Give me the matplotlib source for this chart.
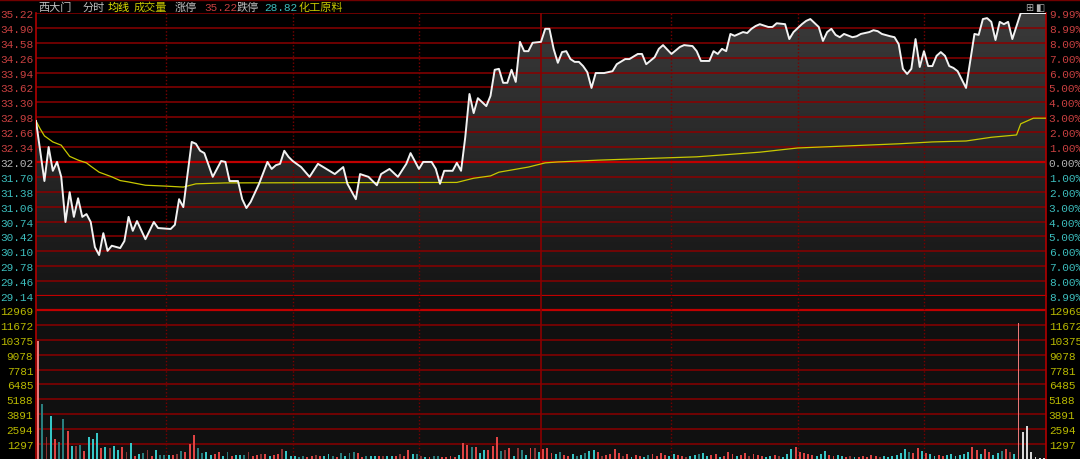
import numpy as np
import matplotlib.pyplot as plt
from matplotlib.colors import LinearSegmentedColormap
from matplotlib.lines import Line2D

plt.rcParams['font.family'] = ['Noto Sans CJK SC', 'DejaVu Sans']

# ---- data ----
prev_close = 32.02
limit_up = 35.22
limit_down = 28.82

price_ticks = [35.22, 34.90, 34.58, 34.26, 33.94, 33.62, 33.30, 32.98, 32.66, 32.34,
               32.02, 31.70, 31.38, 31.06, 30.74, 30.42, 30.10, 29.78, 29.46, 29.14]
pct_labels = ['9.99%', '8.99%', '8.00%', '7.00%', '6.00%', '5.00%', '4.00%', '3.00%', '2.00%', '1.00%',
              '0.00%', '1.00%', '2.00%', '3.00%', '4.00%', '5.00%', '6.00%', '7.00%', '8.00%', '8.99%']
vol_ticks = [1297, 2594, 3891, 5188, 6485, 7781, 9078, 10375, 11672, 12969]

# minute offset from 9:30 (afternoon continues at 120) and price
price_min = [0, 2, 3, 4, 5, 6, 7, 8, 9, 10, 11, 12, 13, 14, 15, 16, 17, 18, 20, 21, 22, 23, 24, 26, 28, 29,
             32, 33, 34, 35, 37, 38, 39, 40, 42, 44, 45, 46, 48, 49, 50, 51, 53, 55, 56, 57, 58, 59, 60, 61,
             63, 65, 67, 69, 71, 73, 74, 76, 77, 79, 81, 82, 84, 86, 88, 89, 91, 92, 94, 95, 96, 97, 99, 100,
             101, 102, 103, 104, 105, 107, 108, 109, 110, 111, 112, 113, 114, 115, 116, 117, 118, 120, 121,
             122, 123, 124, 125, 126, 127, 128, 129, 130, 131, 132, 133, 135, 137, 138, 140, 141, 143, 144,
             145, 147, 148, 149, 151, 153, 154, 156, 157, 158, 160, 161, 162, 163, 164, 165, 166, 168, 169,
             170, 171, 172, 174, 175, 176, 178, 179, 180, 182, 183, 184, 186, 187, 188, 189, 190, 191, 192,
             194, 195, 196, 198, 199, 200, 201, 203, 204, 205, 206, 207, 208, 209, 210, 211, 212, 213, 214,
             215, 216, 217, 218, 219, 221, 223, 224, 225, 226, 227, 228, 229, 230, 231, 232, 234, 240]
price_val = [32.90, 31.61, 32.34, 31.83, 32.02, 31.70, 30.73, 31.37, 30.84, 31.24, 30.84, 30.90, 30.73, 30.19,
             30.02, 30.49, 30.11, 30.22, 30.17, 30.32, 30.84, 30.54, 30.75, 30.36, 30.73, 30.60,
             30.58, 30.67, 31.22, 31.05, 32.45, 32.41, 32.26, 32.21, 31.70, 32.04, 32.02, 31.61, 31.61, 31.22,
             31.03, 31.16, 31.55, 32.02, 31.87, 31.95, 31.98, 32.26, 32.13, 32.04,
             31.91, 31.70, 31.98, 31.87, 31.76, 31.91, 31.55, 31.22, 31.76, 31.70, 31.52, 31.76, 31.87, 31.70,
             31.98, 32.21, 31.87, 32.02, 32.02, 31.87, 31.55, 31.83, 31.83, 32.00,
             31.83, 32.55, 33.48, 33.07, 33.39, 33.22, 33.44, 34.00, 34.02, 33.72, 33.72, 34.00, 33.74, 34.60,
             34.40, 34.40, 34.58, 34.60, 34.88,
             34.88, 34.45, 34.15, 34.38, 34.40, 34.23, 34.17, 34.17, 34.08, 33.95, 33.61, 33.93, 33.93, 33.97,
             34.12, 34.23, 34.23, 34.34, 34.34,
             34.12, 34.27, 34.45, 34.53, 34.34, 34.49, 34.53, 34.51, 34.40, 34.19, 34.19, 34.40, 34.34, 34.45,
             34.40, 34.77, 34.73, 34.81, 34.79,
             34.88, 34.94, 34.98, 34.92, 34.92, 35.00, 34.98, 34.66, 34.81, 34.98, 35.05, 35.09, 34.92, 34.62,
             34.81, 34.88, 34.75, 34.70, 34.77,
             34.70, 34.72, 34.77, 34.81, 34.85, 34.83, 34.77, 34.72, 34.70, 34.55, 34.02, 33.91, 34.02, 34.66,
             34.06, 34.40, 34.08, 34.08, 34.30,
             34.38, 34.30, 34.08, 34.04, 33.97, 33.61, 34.77, 34.75, 35.09, 35.11, 35.03, 34.64, 35.03, 34.98,
             35.03, 34.66, 35.22, 35.22]

avg_min = [0, 1, 2, 4, 6, 8, 10, 12, 13, 15, 18, 20, 22, 26, 31, 35, 38, 45, 100, 104, 108, 110, 117, 121,
           124, 134, 157, 172, 181, 205, 213, 221, 227, 233, 234, 236, 237, 240]
avg_val = [32.90, 32.73, 32.58, 32.45, 32.38, 32.14, 32.06, 32.00, 31.93, 31.80, 31.70, 31.62, 31.59, 31.52,
           31.50, 31.48, 31.55, 31.57, 31.58, 31.67, 31.72, 31.80, 31.91, 32.00,
           32.02, 32.06, 32.13, 32.23, 32.32, 32.41, 32.45, 32.47, 32.55, 32.60, 32.84, 32.92, 32.96, 32.96]

volume = [10300, 4785, 1914, 3741, 1740, 1479, 3480, 2400, 1100, 1131,
          1250, 700, 1914, 1740, 2262, 957, 1044, 957, 1131, 783,
          1044, 609, 1392, 261, 435, 522, 783, 261, 783, 348,
          348, 348, 348, 435, 696, 609, 1305, 2088, 957, 522,
          609, 348, 435, 609, 261, 609, 261, 348, 348, 348,
          609, 261, 348, 435, 435, 261, 348, 435, 870, 696,
          261, 261, 174, 261, 200, 261, 348, 261, 300, 435,
          300, 200, 522, 300, 522, 609, 522, 200, 261, 261,
          261, 300, 261, 261, 261, 261, 435, 261, 783, 435,
          435, 300, 200, 150, 261, 261, 170, 150, 261, 200,
          348, 1392, 1218, 1044, 1044, 522, 783, 783, 1131, 1914,
          696, 783, 957, 300, 957, 783, 348, 957, 957,
          600, 870, 957, 522, 435, 609, 348, 261, 435, 261,
          348, 522, 696, 783, 609, 261, 348, 435, 870, 522,
          261, 435, 174, 348, 261, 174, 348, 435, 261, 522,
          348, 261, 435, 348, 261, 174, 261, 348, 435, 522,
          261, 348, 435, 174, 261, 609, 435, 261, 348, 522,
          261, 435, 348, 261, 174, 261, 348, 261, 174, 435,
          870, 1044, 609, 522, 435, 348, 261, 435, 696, 348,
          261, 348, 261, 174, 261, 174, 174, 261, 174, 348,
          261, 174, 261, 174, 261, 348, 522, 870, 609, 522,
          957, 696, 522, 435, 261, 348, 261, 348, 435, 261,
          348, 435, 609, 1044, 783, 435, 870, 609, 348, 522,
          700, 870, 609, 400, 11800, 2349, 2871, 609, 150, 80, 80]
# r up, d up (dim), c down, t down (dim), p big auction-like bar, w unchanged
vol_kind = ("ptdcrttrcd" "trcccrcdcc" "rdcrctdrct" "tcrdtrrrtt" "ccrrctrcct"
            "drrdrcrrdc" "ccttrrdrcc" "trtcttrrtc" "crdccrdrrc" "tdcrttrrrr"
            "crrtrccrrr" "tdrcdtcrd"
            "crrrctrrct" "ctccrdrrrr" "drcrrctrrr" "rccrrdcctc" "crrcrrrcrr"
            "drrrccrdcc" "crrrrrcccr" "rccrdcrrrr" "rdcccccctr" "rcrccrrccc"
            "cccrrcrrcc" "trdcpwwwwww")

kind_color = {'r': '#e04444', 'd': '#8c3434', 'c': '#36c6c6', 't': '#2a7e7e',
              'p': '#e87878', 'w': '#d8d8d8'}

RED_GRID = '#8a0000'
BRIGHT_GRID = '#c00000'
UP_TXT = '#c84040'
DN_TXT = '#3cbcbc'
VOL_TXT = '#b8b800'
MONO = ['Liberation Mono', 'DejaVu Sans Mono']

fig = plt.figure(figsize=(10.8, 4.6), dpi=100, facecolor='black')
L, W = 36 / 1080, 1010 / 1080
ax = fig.add_axes([L, 1 - 297 / 460, W, 283 / 460], facecolor='black')
axv = fig.add_axes([L, 0, W, 163 / 460], facecolor='#101010')

# ---- price panel ----
fill = ax.fill_between(price_min, price_val, price_ticks[-1], color='none', lw=0)
grad = np.linspace(0, 1, 256).reshape(-1, 1)
cm = LinearSegmentedColormap.from_list('g', ['#151515', '#3a3a3a'])
im = ax.imshow(grad, extent=[0, 240, price_ticks[-1], price_ticks[0]], origin='lower',
               aspect='auto', cmap=cm, zorder=1)
im.set_clip_path(fill.get_paths()[0], transform=ax.transData)

for p in price_ticks:
    if p in (prev_close, price_ticks[-1]):
        ax.axhline(p, color=BRIGHT_GRID, lw=1.6, zorder=2)
    else:
        ax.axhline(p, color=RED_GRID, lw=1.1, zorder=2)

ax.plot(avg_min, avg_val, color='#c8c800', lw=0.9, zorder=3)
ax.plot(price_min, price_val, color='#f2f2f2', lw=1.4, zorder=4)

# ---- volume panel ----
vtop = vol_ticks[-1] * 163 / 149
for v in vol_ticks:
    if v == vol_ticks[-1]:
        axv.axhline(v, color=BRIGHT_GRID, lw=1.6, zorder=1)
    else:
        axv.axhline(v, color=RED_GRID, lw=1.1, zorder=1)
xs = np.arange(len(volume)) + 0.5
widths = [0.3 if k == 'p' else 0.45 for k in vol_kind]
axv.bar(xs, volume, width=widths, color=[kind_color[k] for k in vol_kind], zorder=3)

for a in (ax, axv):
    a.set_xlim(0, 240)
    for m in [31, 61, 91, 151, 181, 211]:
        a.axvline(m, color='#7a0000', lw=1.0, ls=(0, (1, 1.5)), zorder=2)
    a.axvline(120, color='#8a0000', lw=1.2, zorder=2)
    a.set_xticks([])
    for s in ('top', 'bottom'):
        a.spines[s].set_visible(False)
    for s in ('left', 'right'):
        a.spines[s].set_color('#b00000')
        a.spines[s].set_linewidth(1.2)
ax.set_ylim(price_ticks[-1], price_ticks[0])
axv.set_ylim(0, vtop)

# ---- tick labels ----
def price_color(p):
    if p > prev_close + 1e-6:
        return UP_TXT
    if p < prev_close - 1e-6:
        return DN_TXT
    return '#b4b4b4'

ax.set_yticks(price_ticks)
ax.set_yticklabels(['%.2f' % p for p in price_ticks], family=MONO, fontsize=8)
ax.tick_params(axis='y', length=0, pad=2)
for lab, p in zip(ax.get_yticklabels(), price_ticks):
    lab.set_color(price_color(p))

ax2 = ax.twinx()
ax2.set_ylim(price_ticks[-1], price_ticks[0])
ax2.set_yticks(price_ticks)
ax2.set_yticklabels(pct_labels, family=MONO, fontsize=8)
ax2.tick_params(axis='y', length=0, pad=2)
for lab, p in zip(ax2.get_yticklabels(), price_ticks):
    lab.set_color(price_color(p))
for s in ax2.spines.values():
    s.set_visible(False)

axv.set_yticks(vol_ticks)
axv.set_yticklabels([str(v) for v in vol_ticks], family=MONO, fontsize=8, color=VOL_TXT)
axv.tick_params(axis='y', length=0, pad=2)
axv2 = axv.twinx()
axv2.set_ylim(0, vtop)
axv2.set_yticks(vol_ticks)
axv2.set_yticklabels([str(v) for v in vol_ticks], family=MONO, fontsize=8, color=VOL_TXT)
axv2.tick_params(axis='y', length=0, pad=2)
for s in axv2.spines.values():
    s.set_visible(False)

# ---- header ----
hy = 1 - 8 / 460
head = [(38, '西大门', '#c0c0c0'), (83, '分时', '#c0c0c0'), (108, '均线', '#e6e600'),
        (134, '成交量', '#c8c800'), (175, '涨停', '#c0c0c0'), (204, '%.2f' % limit_up, UP_TXT),
        (237, '跌停', '#c0c0c0'), (264, '%.2f' % limit_down, DN_TXT), (299, '化工原料', '#c8c800')]
for x, t, c in head:
    fam = MONO if t[0].isdigit() else ['Noto Sans CJK SC', 'DejaVu Sans']
    fig.text(x / 1080, hy, t, color=c, fontsize=8, va='center', ha='left', family=fam)
fig.text(1029 / 1080, hy, '⊞', color='#b0b0b0', fontsize=7, va='center', ha='center', family='DejaVu Sans')
fig.text(1040 / 1080, hy, '◧', color='#b0b0b0', fontsize=7, va='center', ha='center', family='DejaVu Sans')
fig.add_artist(Line2D([0, 1], [1 - 0.5 / 460, 1 - 0.5 / 460], transform=fig.transFigure,
                      color='#700000', lw=1))

fig.savefig('out.png', dpi=100, facecolor='black')
